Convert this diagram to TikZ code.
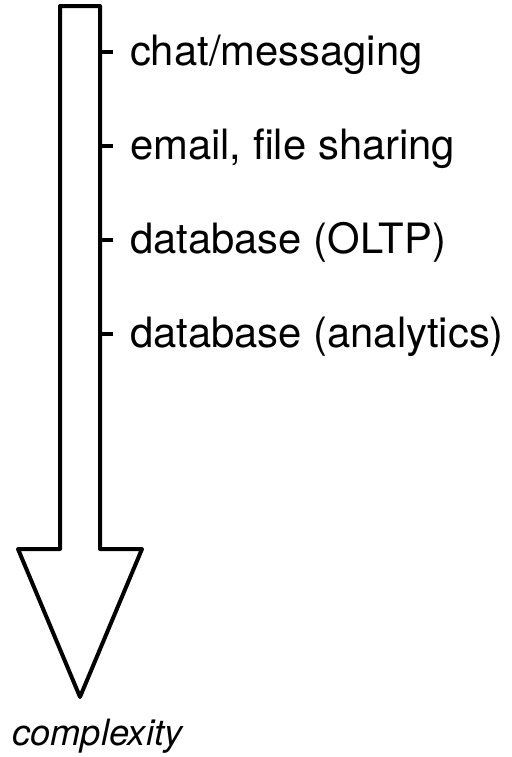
\documentclass[tikz,border=0pt]{standalone}
\usepackage{fontspec}
\setmainfont{TeX Gyre Heros}

\begin{document}
\begin{tikzpicture}[x=0.5pt,y=-0.5pt,line width=2pt,line join=round,
    item/.style={anchor=base west,inner sep=0pt,font=\fontsize{20.9}{25}\selectfont}]
    \useasboundingbox (0,0) rectangle (512,757);

    \coordinate (topL) at (60,6);
    \coordinate (topR) at (100,6);
    \coordinate (neckL) at (60,549);
    \coordinate (neckR) at (100,549);
    \coordinate (headL) at (18,549);
    \coordinate (headR) at (142,549);
    \coordinate (tip) at (80,697);

    \draw (neckL) -- (topL) -- (topR) -- (neckR) -- (headR) -- (tip) -- (headL) -- cycle;

    \coordinate (tick1) at (100,52);
    \coordinate (tick2) at (100,146);
    \coordinate (tick3) at (100,240);
    \coordinate (tick4) at (100,334);

    \node[item] (chat) at (128,65) {chat/messaging};
    \node[item] (email) at (128,159) {email, file sharing};
    \node[item] (oltp) at (128,253) {database (OLTP)};
    \node[item] (analytics) at (128,347) {database (analytics)};

    \draw (tick1) -- ++(13,0);
    \draw (tick2) -- ++(13,0);
    \draw (tick3) -- ++(13,0);
    \draw (tick4) -- ++(13,0);

    \node[anchor=base,inner sep=0pt,font=\fontsize{18.1}{22}\selectfont\itshape] (cplx) at (97.5,745) {complexity};
\end{tikzpicture}
\end{document}
